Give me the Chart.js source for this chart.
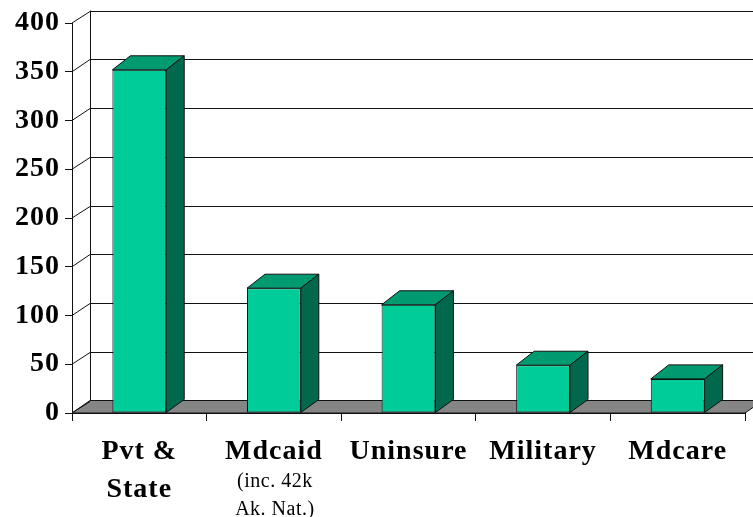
<!DOCTYPE html>
<html>
<head>
<meta charset="utf-8">
<title>Coverage by payer</title>
<script src="https://cdn.jsdelivr.net/npm/chart.js@4/dist/chart.umd.min.js"></script>
<style>
  html, body { margin: 0; padding: 0; background: #ffffff; }
  #wrap { width: 753px; height: 517px; position: relative; }
</style>
</head>
<body>
<div id="wrap"><canvas id="c"></canvas></div>
<script>
// Categories (bold label lines) and the smaller note lines under them
const categories = [['Pvt &', 'State'], 'Mdcaid', 'Uninsure', 'Military', 'Mdcare'];
const notes = [[], ['(inc. 42k', 'Ak. Nat.)'], [], [], []];
// Enrollment per payer
const enrolled = [352, 128, 111, 49, 35];
// Value axis ticks
const yTicks = [0, 50, 100, 150, 200, 250, 300, 350, 400];

const FACE = '#00CC99', TOP = '#009A70', SIDE = '#00684C', FLOOR = '#858585';
const WALL_DX = 18, WALL_DY = -12.5;   // depth of the back wall
const BAR_DX = 18, BAR_DY = -14;       // depth of each column

function poly(ctx, pts, fill) {
  ctx.beginPath();
  ctx.moveTo(pts[0][0], pts[0][1]);
  for (let i = 1; i < pts.length; i++) ctx.lineTo(pts[i][0], pts[i][1]);
  ctx.closePath();
  if (fill) { ctx.fillStyle = fill; ctx.fill(); }
  ctx.stroke();
}

// Slightly wider lettering for all axis text
const spacingPlugin = {
  id: 'spacing',
  beforeDraw(chart) { chart.ctx.letterSpacing = '1px'; },
  beforeDatasetsDraw(chart) { chart.ctx.letterSpacing = '0px'; }
};

// Back wall, side wall diagonals and the grey floor, drawn behind the columns
const wallPlugin = {
  id: 'wall',
  beforeDatasetsDraw(chart) {
    const ctx = chart.ctx, y = chart.scales.y, x = chart.scales.x;
    const L = x.left, R = x.right;
    ctx.save();
    ctx.strokeStyle = '#111';
    ctx.lineWidth = 1;
    const y0 = y.getPixelForValue(0);
    const yTop = y.getPixelForValue(yTicks[yTicks.length - 1]);
    // floor
    poly(ctx, [[L, y0], [R, y0], [R + WALL_DX, y0 + WALL_DY], [L + WALL_DX, y0 + WALL_DY]], FLOOR);
    // back wall vertical edge
    ctx.beginPath();
    ctx.moveTo(Math.round(L + WALL_DX) + 0.5, yTop + WALL_DY);
    ctx.lineTo(Math.round(L + WALL_DX) + 0.5, y0 + WALL_DY);
    ctx.stroke();
    // gridlines on the back wall plus the side-wall diagonals
    yTicks.forEach(v => {
      const py = y.getPixelForValue(v);
      const by = Math.round(py + WALL_DY) + 0.5;
      ctx.beginPath();
      ctx.moveTo(L, py);
      ctx.lineTo(L + WALL_DX, by);
      if (v !== 0) ctx.lineTo(chart.width + 2, by);
      ctx.stroke();
    });
    ctx.restore();
  },
  afterDatasetsDraw(chart) {
    const ctx = chart.ctx;
    const meta = chart.getDatasetMeta(0);
    ctx.save();
    ctx.strokeStyle = '#111';
    ctx.lineWidth = 1;
    meta.data.forEach(bar => {
      const p = bar.getProps(['x', 'y', 'base', 'width'], true);
      const xl = p.x - p.width / 2, xr = p.x + p.width / 2;
      // top face
      poly(ctx, [[xl, p.y], [xr, p.y], [xr + BAR_DX, p.y + BAR_DY], [xl + BAR_DX, p.y + BAR_DY]], TOP);
      // side face
      poly(ctx, [[xr, p.y], [xr + BAR_DX, p.y + BAR_DY], [xr + BAR_DX, p.base + BAR_DY + 1], [xr, p.base]], SIDE);
    });
    // note lines under the category labels
    const xs = chart.scales.x;
    ctx.fillStyle = '#000';
    ctx.font = '20px "Liberation Serif", "Times New Roman", serif';
    ctx.textAlign = 'center';
    ctx.textBaseline = 'middle';
    ctx.letterSpacing = '0.5px';
    notes.forEach((lines, i) => {
      const cx = xs.getPixelForValue(i);
      lines.forEach((t, k) => ctx.fillText(t, cx + 1, 482 + k * 28));
    });
    ctx.restore();
  }
};

new Chart(document.getElementById('c'), {
  type: 'bar',
  data: {
    labels: categories,
    datasets: [{
      data: enrolled,
      backgroundColor: FACE,
      borderColor: '#111',
      borderWidth: 1,
      borderSkipped: false,
      barPercentage: 0.4,
      categoryPercentage: 1.0
    }]
  },
  options: {
    responsive: true,
    maintainAspectRatio: false,
    animation: false,
    layout: { padding: { top: 23, right: 8, left: 0, bottom: 0 } },
    plugins: { legend: { display: false }, tooltip: { enabled: false } },
    scales: {
      x: {
        afterFit(s) { s.height = 104; },
        grid: { offset: true, drawOnChartArea: false, tickLength: 8, color: '#111' },
        border: { color: '#111', width: 1 },
        ticks: {
          color: '#000',
          padding: 12,
          maxRotation: 0,
          autoSkip: false,
          font: { family: '"Liberation Serif", "Times New Roman", serif', size: 28, weight: 'bold', lineHeight: 1.36 }
        }
      },
      y: {
        min: 0,
        max: 400,
        afterFit(s) { s.width = 72; },
        afterBuildTicks(s) { s.ticks = yTicks.map(v => ({ value: v })); },
        grid: { drawOnChartArea: false, tickLength: 7, color: '#111' },
        border: { color: '#111', width: 1 },
        ticks: {
          color: '#000',
          padding: 5,
          font: { family: '"Liberation Serif", "Times New Roman", serif', size: 28, weight: 'bold' }
        }
      }
    }
  },
  plugins: [spacingPlugin, wallPlugin]
});
</script>
</body>
</html>
